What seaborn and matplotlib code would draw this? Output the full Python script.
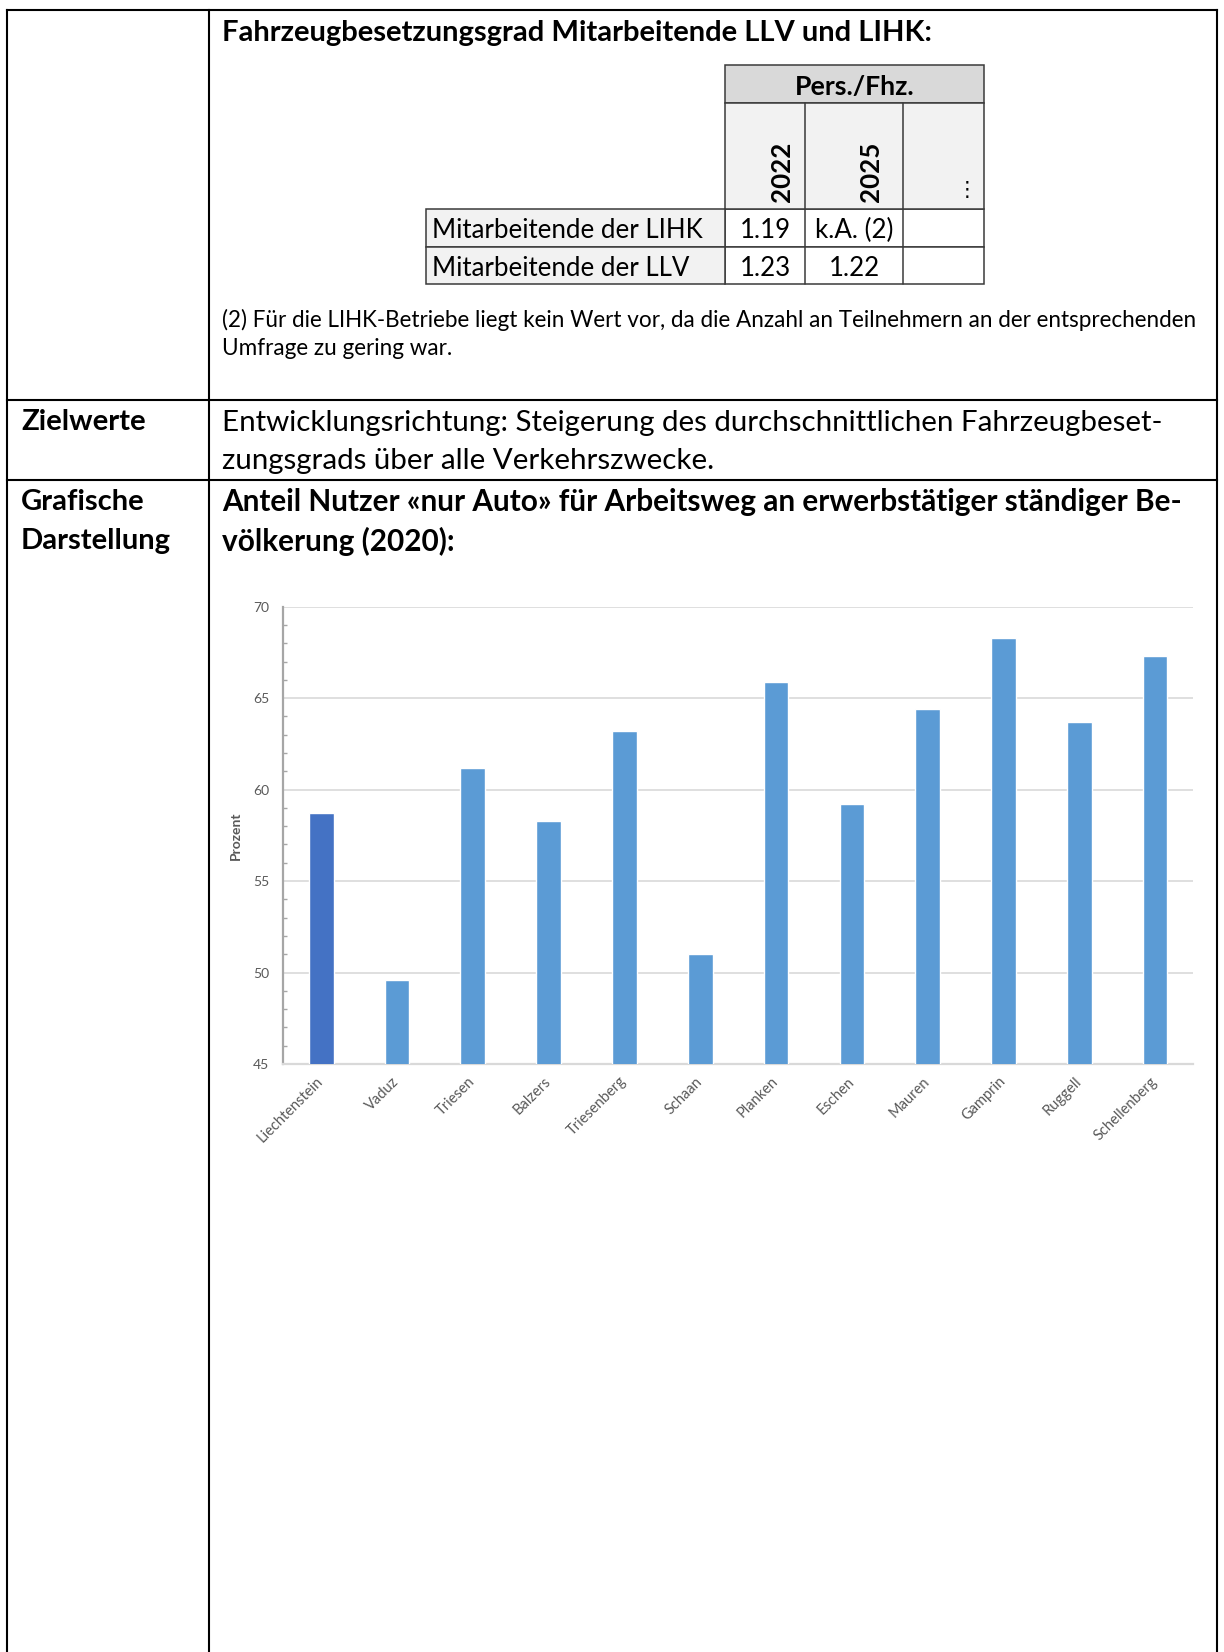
import matplotlib
matplotlib.use("Agg")
import matplotlib.pyplot as plt
import seaborn as sns
from matplotlib.patches import Rectangle
from matplotlib.ticker import MultipleLocator

# ---------------- data ----------------
gemeinden = ["Liechtenstein", "Vaduz", "Triesen", "Balzers", "Triesenberg", "Schaan",
             "Planken", "Eschen", "Mauren", "Gamprin", "Ruggell", "Schellenberg"]
anteil_nur_auto = [58.7, 49.6, 61.2, 58.3, 63.2, 51.0, 65.9, 59.2, 64.4, 68.3, 63.7, 67.3]
bar_farben = ["#4472C4"] + ["#5B9BD5"] * 11
y_ticks = [45, 50, 55, 60, 65, 70]

tab_kopf = "Pers./Fhz."
tab_jahre = ["2022", "2025", "\u22ee"]
tab_zeilen = ["Mitarbeitende der LIHK", "Mitarbeitende der LLV"]
tab_werte_2022 = ["1.19", "1.23"]
tab_werte_2025 = ["k.A. (2)", "1.22"]

titel_1 = "Fahrzeugbesetzungsgrad Mitarbeitende LLV und LIHK:"
fussnote = ["(2) Für die LIHK-Betriebe liegt kein Wert vor, da die Anzahl an Teilnehmern an der entsprechenden",
            "Umfrage zu gering war."]
ziel_text = ["Entwicklungsrichtung: Steigerung des durchschnittlichen Fahrzeugbeset-",
             "zungsgrads über alle Verkehrszwecke."]
grafik_titel = ["Anteil Nutzer «nur Auto» für Arbeitsweg an erwerbstätiger ständiger Be-",
                "völkerung (2020):"]

# ---------------- setup ----------------
sns.set_theme(style="white")
plt.rcParams['font.family'] = ['Lato', 'DejaVu Sans']

W, H = 1224, 1652
fig = plt.figure(figsize=(W / 100, H / 100), dpi=100)
bg = fig.add_axes([0, 0, 1, 1])
bg.set_xlim(0, W)
bg.set_ylim(H, 0)
bg.axis('off')
renderer = fig.canvas.get_renderer()
DY = 2.5


def txt(x, y, s, width=None, size=14, ha='left', va='center', **kw):
    t = bg.text(x, y + DY, s, fontsize=size, ha=ha, va=va, **kw)
    if width:
        w = t.get_window_extent(renderer).width
        t.set_fontsize(size * width / w)
    return t


# outer document table
blk = dict(color="black", lw=1.5, solid_capstyle='projecting')
bg.plot([7, 1216.5], [10, 10], **blk)
bg.plot([7, 7], [10, H + 5], **blk)
bg.plot([1216.5, 1216.5], [10, H + 5], **blk)
bg.plot([208.5, 208.5], [10, H + 5], **blk)
bg.plot([7, 1216.5], [400, 400], **blk)
bg.plot([7, 1216.5], [479.5, 479.5], **blk)

# section texts
txt(222, 31, titel_1, width=715, fontweight='bold', color='black')
t1 = txt(222, 317, fussnote[0], width=979, color='black')
txt(222, 346, fussnote[1], size=t1.get_fontsize(), color='black')
txt(21, 420, "Zielwerte", width=125, fontweight='bold', color='black')
t2 = txt(222, 420, ziel_text[0], width=942, color='black')
txt(222, 459, ziel_text[1], size=t2.get_fontsize(), color='black')
t3 = txt(21, 500, "Grafische", width=124, fontweight='bold', color='black')
txt(21, 539, "Darstellung", size=t3.get_fontsize(), fontweight='bold', color='black')
t4 = txt(222, 500, grafik_titel[0], width=966, fontweight='bold', color='black')
txt(222, 539, grafik_titel[1], size=t4.get_fontsize(), fontweight='bold', color='black')

# inner small table
lc = "#3a3a3a"
bg.add_patch(Rectangle((725, 65), 259, 37.5, facecolor="#d9d9d9", edgecolor=lc, lw=1.1))
bg.add_patch(Rectangle((725, 102.5), 259, 106.5, facecolor="#f2f2f2", edgecolor=lc, lw=1.1))
row_y = [209, 247, 284]
for i in range(2):
    bg.add_patch(Rectangle((426, row_y[i]), 299, row_y[i + 1] - row_y[i],
                           facecolor="#f2f2f2", edgecolor=lc, lw=1.1))
    bg.add_patch(Rectangle((725, row_y[i]), 259, row_y[i + 1] - row_y[i],
                           facecolor="white", edgecolor=lc, lw=1.1, zorder=0.5))
for xx in [805, 903]:
    bg.plot([xx, xx], [102.5, 284], color=lc, lw=1.1)

txt(854.5, 84, tab_kopf, width=121, ha='center', fontweight='bold', color='black')
tl = txt(432, 227.5, tab_zeilen[0], width=271, color='black')
fs = tl.get_fontsize()
txt(432, 266.5, tab_zeilen[1], size=fs, color='black')
col_x = [765, 854, 943]
for j, yr in enumerate(tab_jahre[:2]):
    txt(col_x[j] + 17, 200, yr, size=fs, ha='center', va='bottom', rotation=90,
        fontweight='bold', color='black')
txt(967, 197, tab_jahre[2], size=fs * 0.8, ha='center', va='bottom', color='black')
for i in range(2):
    txt(col_x[0], (row_y[i] + row_y[i + 1]) / 2, tab_werte_2022[i], size=fs, ha='center', color='black')
    txt(col_x[1], (row_y[i] + row_y[i + 1]) / 2, tab_werte_2025[i], size=fs, ha='center', color='black')

# ---------------- chart ----------------
left, right, top, bottom = 283.3, 1193, 606.7, 1064
ax = fig.add_axes([left / W, 1 - bottom / H, (right - left) / W, (bottom - top) / H])
sns.barplot(x=gemeinden, y=anteil_nur_auto, hue=gemeinden, palette=bar_farben,
            legend=False, width=0.326, saturation=1, ax=ax, zorder=3)
ax.set_ylim(45, 70)
ax.set_xlim(-0.5, len(gemeinden) - 0.5)
ax.set_yticks(y_ticks)
ax.yaxis.set_minor_locator(MultipleLocator(1))
ax.grid(axis='y', which='major', color='#d9d9d9', lw=1.2, zorder=0)
ax.set_axisbelow(True)
for s in ['top', 'right']:
    ax.spines[s].set_visible(False)
ax.spines['left'].set_color('#a6a6a6')
ax.spines['left'].set_linewidth(1.6)
ax.spines['bottom'].set_color('#d9d9d9')
ax.spines['bottom'].set_linewidth(1.6)
ax.tick_params(axis='y', which='major', length=0, pad=10, labelsize=10, labelcolor='#595959')
ax.tick_params(axis='y', which='minor', left=True, direction='in', length=3, width=1, color='#a6a6a6')
ax.tick_params(axis='x', length=0, pad=11, labelsize=10.5, labelcolor='#595959')
for lab in ax.get_xticklabels():
    lab.set_rotation(45)
    lab.set_ha('right')
    lab.set_va('center')
    lab.set_rotation_mode('anchor')
ax.set_xlabel('')
ax.set_ylabel('Prozent', fontsize=10, color='#595959', fontweight='bold')
ax.yaxis.set_label_coords(-0.045, 0.5)
ax.set_facecolor('none')

fig.savefig("out.png", dpi=100, facecolor='white')
